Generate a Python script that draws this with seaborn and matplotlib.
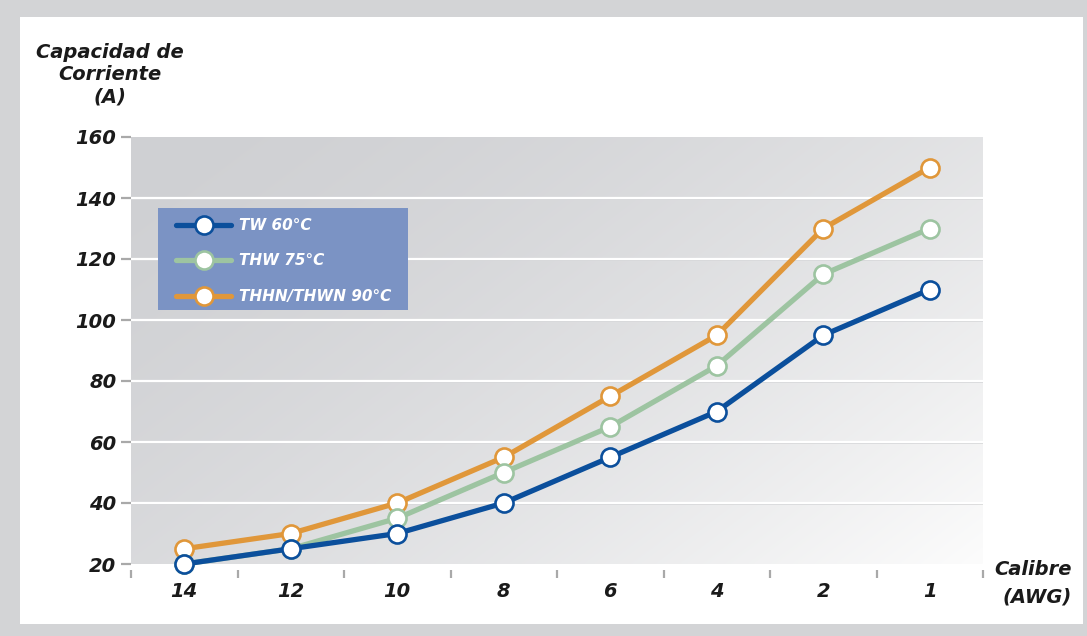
import numpy as np
import pandas as pd
import matplotlib
matplotlib.use("Agg")
import matplotlib.pyplot as plt
from matplotlib.patches import Rectangle
import seaborn as sns

# Wire gauges (AWG) and ampacity per insulation type
calibres = ["14", "12", "10", "8", "6", "4", "2", "1"]
tw_60 = [20, 25, 30, 40, 55, 70, 95, 110]
thw_75 = [20, 25, 35, 50, 65, 85, 115, 130]
thhn_90 = [25, 30, 40, 55, 75, 95, 130, 150]
series_names = ["TW 60°C", "THW 75°C", "THHN/THWN 90°C"]
y_ticks = [20, 40, 60, 80, 100, 120, 140, 160]

colors = {"TW 60°C": "#0b4f9c", "THW 75°C": "#9dc4a1", "THHN/THWN 90°C": "#e0973a"}

pos = np.arange(len(calibres))
df = pd.concat([
    pd.DataFrame({"pos": pos, "amp": vals, "tipo": name})
    for name, vals in zip(series_names, [tw_60, thw_75, thhn_90])
])

sns.set_theme(style="white")
plt.rcParams["font.family"] = ["DejaVu Sans"]

W, H = 1087, 636
fig = plt.figure(figsize=(W / 100, H / 100), dpi=100, facecolor="#d3d4d6")

# white card on the grey frame
fig.patches.append(Rectangle((20 / W, 1 - 624 / H), 1063 / W, 607 / H,
                             transform=fig.transFigure, facecolor="white",
                             edgecolor="none", zorder=-5))

ax = fig.add_axes([131 / W, 1 - 564 / H, (983 - 131) / W, (564 - 137) / H])
ax.set_facecolor("none")
for s in ax.spines.values():
    s.set_visible(False)

x0, x1, y0, y1 = -0.5, 7.5, 20, 160
ax.set_xlim(x0, x1)
ax.set_ylim(y0, y1)

# diagonal grey-to-white background gradient
nx, ny = 400, 200
xn = np.linspace(0, 1, nx)[None, :]
yb = np.linspace(0, 1, ny)[:, None]  # 0 at top, 1 at bottom
s = np.clip(0.6 * xn + 0.4 * yb, 0, 1) ** 1.6
c0 = np.array([207, 208, 211]) / 255
c1 = np.array([252, 252, 252]) / 255
img = c0[None, None, :] + (c1 - c0)[None, None, :] * s[:, :, None]
ax.imshow(img, extent=(x0, x1, y0, y1), origin="upper", aspect="auto",
          interpolation="bilinear", zorder=0)

# horizontal grid: white line with a faint grey shadow
for yv in y_ticks[1:-1]:
    ax.axhline(yv - 0.45, color="#d3d4d6", lw=1.2, zorder=1)
    ax.axhline(yv, color="white", lw=1.6, zorder=1.1)

# draw the hottest rating first so TW sits on top
handles = {}
for z, name in enumerate(reversed(series_names)):
    sub = df[df["tipo"] == name]
    sns.lineplot(data=sub, x="pos", y="amp", ax=ax, color=colors[name],
                 lw=3.8, marker="o", markersize=13, markerfacecolor="white",
                 markeredgecolor=colors[name], markeredgewidth=1.9,
                 label=name, zorder=3 + z, clip_on=False)
    handles[name] = ax.get_lines()[-1]

ax.set_xlabel("")
ax.set_ylabel("")

bold_it = dict(fontweight="bold", fontstyle="italic", color="#1a1a1a")

ax.set_yticks(y_ticks)
ax.set_yticklabels([str(v) for v in y_ticks], fontsize=14, **bold_it)
ax.tick_params(axis="y", which="major", direction="out", length=7.5,
               width=1.6, color="#a9a9a9", pad=3, left=True)

ax.spines["bottom"].set_position(("outward", 4))
ax.set_xticks(pos)
ax.set_xticklabels(calibres, fontsize=14, **bold_it)
ax.set_xticks(np.arange(-0.5, 8.0, 1.0), minor=True)
ax.tick_params(axis="x", which="major", length=0, pad=9)
ax.tick_params(axis="x", which="minor", direction="out", length=5.5,
               width=1.6, color="#a9a9a9", bottom=True)

fig.text(110 / W, 1 - 75 / H, "Capacidad de\nCorriente\n(A)", ha="center",
         va="center", fontsize=14, linespacing=1.2, **bold_it)
fig.text(1072 / W, 1 - 583 / H, "Calibre\n(AWG)", ha="right", va="center",
         fontsize=14, linespacing=1.55, multialignment="right", **bold_it)

# legend panel
ax.add_patch(Rectangle((158 / W, 1 - 310 / H), 250 / W, 102 / H,
                       transform=fig.transFigure, facecolor="#7b93c4",
                       edgecolor="none", zorder=9, clip_on=False))
leg = ax.legend([handles[n] for n in series_names], series_names,
                loc="upper left", bbox_to_anchor=(176 / W, 1 - 218 / H),
                bbox_transform=fig.transFigure, frameon=False,
                handlelength=3.6, handletextpad=0.55, labelspacing=1.34,
                borderpad=0, borderaxespad=0,
                prop=dict(weight="bold", style="italic", size=11))
for t in leg.get_texts():
    t.set_color("white")
leg.set_zorder(10)

fig.savefig("out.png", dpi=100, facecolor=fig.get_facecolor())
